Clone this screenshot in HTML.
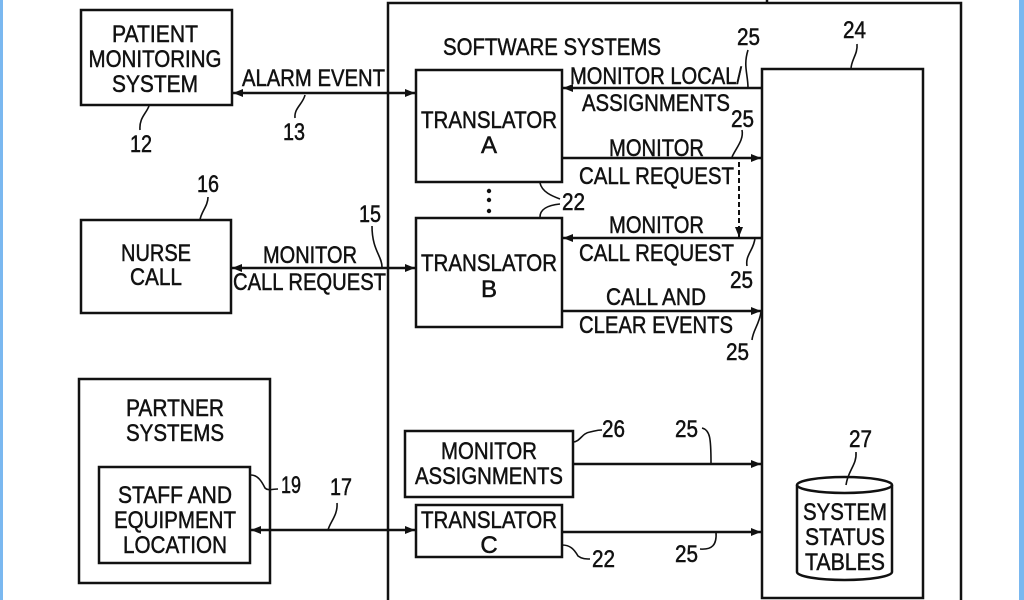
<!DOCTYPE html>
<html><head><meta charset="utf-8"><style>
html,body{margin:0;padding:0;background:#fff;}
svg{display:block;}
text{font-family:"Liberation Sans",sans-serif;font-size:24px;fill:#111;stroke:#111;stroke-width:0.5;}
</style></head><body>
<svg width="1024" height="600" viewBox="0 0 1024 600" xmlns="http://www.w3.org/2000/svg">
<defs>
<marker id="a" viewBox="0 0 10 10" refX="10" refY="5" markerWidth="18" markerHeight="10" markerUnits="userSpaceOnUse" orient="auto-start-reverse"><path d="M0,1 L10,5 L0,9 z" fill="#111"/></marker>
</defs>
<rect x="0" y="0" width="3" height="600" fill="#7ab8f0"/>
<rect x="1019" y="0" width="5" height="600" fill="#7ab8f0"/>
<g fill="none" stroke="#111" stroke-width="2.5">
<path d="M388,600 V3 H961 V600"/>
<line x1="767" y1="0" x2="767" y2="3"/>
<rect x="81" y="10" width="151" height="95"/>
<rect x="81" y="220" width="150" height="93"/>
<rect x="79" y="379" width="191" height="204"/>
<rect x="99" y="467" width="151" height="96"/>
<rect x="416" y="70" width="146" height="112"/>
<rect x="416" y="218" width="146" height="109"/>
<rect x="405" y="431" width="168" height="66"/>
<rect x="416" y="505" width="146" height="52"/>
<rect x="762" y="69" width="161" height="529"/>
<path d="M797,485 V572 A47.5,8 0 0 0 892,572 V485"/>
<ellipse cx="844.5" cy="485" rx="47.5" ry="8"/>
</g>
<g stroke="#111" stroke-width="2.5" fill="none">
<line x1="233" y1="93" x2="415" y2="93" marker-start="url(#a)" marker-end="url(#a)"/>
<line x1="232" y1="268" x2="415" y2="268" marker-start="url(#a)" marker-end="url(#a)"/>
<line x1="251" y1="530" x2="415" y2="530" marker-start="url(#a)" marker-end="url(#a)"/>
<line x1="762" y1="88" x2="563" y2="88" marker-end="url(#a)"/>
<line x1="562" y1="158" x2="761" y2="158" marker-end="url(#a)"/>
<line x1="762" y1="238" x2="563" y2="238" marker-end="url(#a)"/>
<line x1="562" y1="311" x2="761" y2="311" marker-end="url(#a)"/>
<line x1="573" y1="464" x2="761" y2="464" marker-end="url(#a)"/>
<line x1="562" y1="532" x2="761" y2="532" marker-end="url(#a)"/>
<line x1="739" y1="162" x2="739" y2="237" stroke-dasharray="5,3" stroke-width="2" marker-end="url(#a)"/>
</g>
<g stroke="#111" stroke-width="1.6" fill="none">
<path d="M149,106 C146,114 139,118 140,130"/>
<path d="M305,95 C303,104 294,108 295,118"/>
<path d="M200,220 C201,212 208,206 208,197"/>
<path d="M382,267 C382,256 372,250 372,226"/>
<path d="M748,88 C748,74 743,66 748,50"/>
<path d="M732,157 C736,148 744,140 742,130"/>
<path d="M540,183 C542,192 552,196 560,199 M540,217 C540,208 550,205 560,204"/>
<path d="M755,238 C754,250 745,255 747,266"/>
<path d="M761,312 C759,325 753,330 752,340"/>
<path d="M851,69 C851,60 858,54 857,44"/>
<path d="M251,475 C258,475 262,482 265,488 C268,491 272,489 278,489"/>
<path d="M573,442 C580,442 582,433 590,432 C595,431 597,430 602,430"/>
<path d="M562,545 C570,545 574,549 578,556 C582,559 586,559 590,559"/>
<path d="M702,428 C710,430 711,438 711,463"/>
<path d="M716,532 C717,545 712,550 700,549"/>
<path d="M328,530 C330,522 338,515 337,503"/>
<path d="M846,485 C848,470 857,465 856,452"/>
</g>
<g text-anchor="middle">
<text x="155" y="42" textLength="86" lengthAdjust="spacingAndGlyphs">PATIENT</text>
<text x="155" y="67" textLength="133" lengthAdjust="spacingAndGlyphs">MONITORING</text>
<text x="155" y="92" textLength="86" lengthAdjust="spacingAndGlyphs">SYSTEM</text>
<text x="156" y="261" textLength="70" lengthAdjust="spacingAndGlyphs">NURSE</text>
<text x="156" y="285" textLength="52" lengthAdjust="spacingAndGlyphs">CALL</text>
<text x="175" y="416" textLength="98" lengthAdjust="spacingAndGlyphs">PARTNER</text>
<text x="175" y="441" textLength="98" lengthAdjust="spacingAndGlyphs">SYSTEMS</text>
<text x="175" y="503" textLength="114" lengthAdjust="spacingAndGlyphs">STAFF AND</text>
<text x="175" y="528" textLength="122" lengthAdjust="spacingAndGlyphs">EQUIPMENT</text>
<text x="175" y="553" textLength="104" lengthAdjust="spacingAndGlyphs">LOCATION</text>
<text x="489" y="128" textLength="136" lengthAdjust="spacingAndGlyphs">TRANSLATOR</text>
<text x="489" y="153">A</text>
<text x="489" y="271" textLength="136" lengthAdjust="spacingAndGlyphs">TRANSLATOR</text>
<text x="489" y="297">B</text>
<text x="489" y="459" textLength="96" lengthAdjust="spacingAndGlyphs">MONITOR</text>
<text x="489" y="484" textLength="148" lengthAdjust="spacingAndGlyphs">ASSIGNMENTS</text>
<text x="489" y="528" textLength="136" lengthAdjust="spacingAndGlyphs">TRANSLATOR</text>
<text x="489" y="553">C</text>
<text x="845" y="520" textLength="84" lengthAdjust="spacingAndGlyphs">SYSTEM</text>
<text x="845" y="545" textLength="80" lengthAdjust="spacingAndGlyphs">STATUS</text>
<text x="845" y="570" textLength="80" lengthAdjust="spacingAndGlyphs">TABLES</text>
</g>
<g>
<text x="242" y="86" textLength="143" lengthAdjust="spacingAndGlyphs">ALARM EVENT</text>
<text x="263" y="263" textLength="94" lengthAdjust="spacingAndGlyphs">MONITOR</text>
<text x="233" y="290" textLength="153" lengthAdjust="spacingAndGlyphs">CALL REQUEST</text>
<text x="443" y="55" textLength="218" lengthAdjust="spacingAndGlyphs">SOFTWARE SYSTEMS</text>
<text x="570" y="84" textLength="172" lengthAdjust="spacingAndGlyphs">MONITOR LOCAL/</text>
<text x="582" y="111" textLength="148" lengthAdjust="spacingAndGlyphs">ASSIGNMENTS</text>
<text x="609" y="156" textLength="95" lengthAdjust="spacingAndGlyphs">MONITOR</text>
<text x="579" y="184" textLength="155" lengthAdjust="spacingAndGlyphs">CALL REQUEST</text>
<text x="609" y="233" textLength="95" lengthAdjust="spacingAndGlyphs">MONITOR</text>
<text x="579" y="261" textLength="155" lengthAdjust="spacingAndGlyphs">CALL REQUEST</text>
<text x="606" y="305" textLength="100" lengthAdjust="spacingAndGlyphs">CALL AND</text>
<text x="579" y="333" textLength="154" lengthAdjust="spacingAndGlyphs">CLEAR EVENTS</text>
<text x="130" y="152" textLength="22" lengthAdjust="spacingAndGlyphs">12</text>
<text x="283" y="140" textLength="22" lengthAdjust="spacingAndGlyphs">13</text>
<text x="197" y="192" textLength="22" lengthAdjust="spacingAndGlyphs">16</text>
<text x="359" y="222" textLength="22" lengthAdjust="spacingAndGlyphs">15</text>
<text x="737" y="45" textLength="23" lengthAdjust="spacingAndGlyphs">25</text>
<text x="843" y="38" textLength="23" lengthAdjust="spacingAndGlyphs">24</text>
<text x="731" y="127" textLength="23" lengthAdjust="spacingAndGlyphs">25</text>
<text x="562" y="210" textLength="23" lengthAdjust="spacingAndGlyphs">22</text>
<text x="730" y="288" textLength="23" lengthAdjust="spacingAndGlyphs">25</text>
<text x="726" y="360" textLength="23" lengthAdjust="spacingAndGlyphs">25</text>
<text x="281" y="493" textLength="20" lengthAdjust="spacingAndGlyphs">19</text>
<text x="330" y="495" textLength="22" lengthAdjust="spacingAndGlyphs">17</text>
<text x="602" y="437" textLength="23" lengthAdjust="spacingAndGlyphs">26</text>
<text x="675" y="437" textLength="23" lengthAdjust="spacingAndGlyphs">25</text>
<text x="592" y="567" textLength="23" lengthAdjust="spacingAndGlyphs">22</text>
<text x="675" y="562" textLength="23" lengthAdjust="spacingAndGlyphs">25</text>
<text x="849" y="447" textLength="23" lengthAdjust="spacingAndGlyphs">27</text>
</g>
<g fill="#111"><circle cx="489" cy="191" r="2.2"/><circle cx="489" cy="200" r="2.2"/><circle cx="489" cy="211" r="2.2"/></g>
</svg>
</body></html>
